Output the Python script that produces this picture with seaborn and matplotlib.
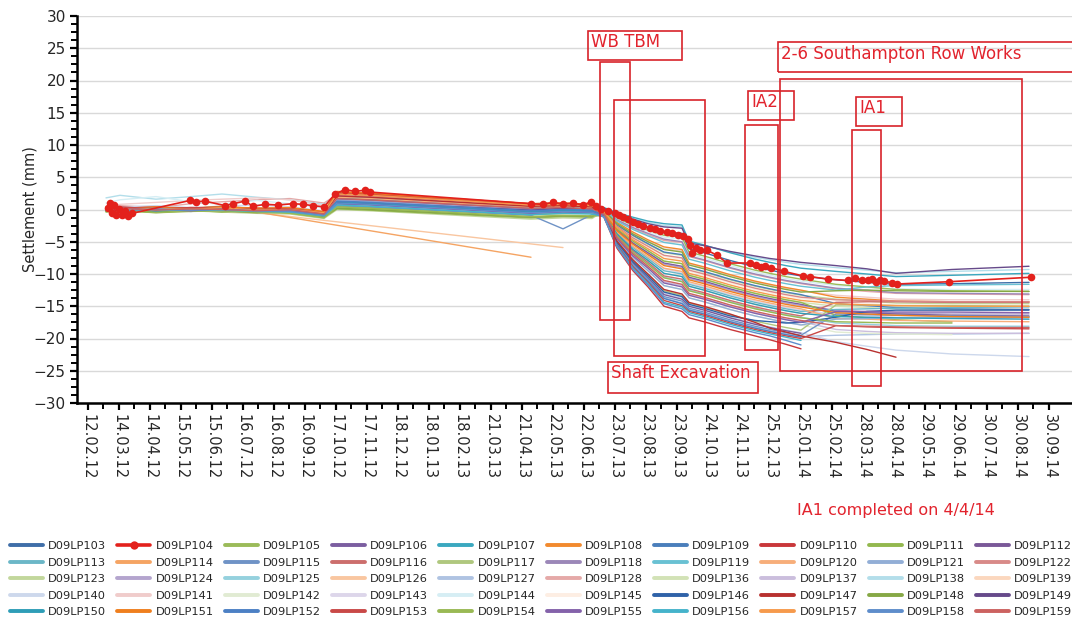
import numpy as np
import pandas as pd
import matplotlib
matplotlib.use("Agg")
import matplotlib.pyplot as plt
import matplotlib.dates as mdates
from matplotlib.patches import Rectangle
from matplotlib.lines import Line2D
from matplotlib.ticker import MultipleLocator, FixedLocator
import seaborn as sns

# ---------------------------------------------------------------------------
# Survey data: settlement (mm) of levelling points D09LP103 ... D09LP159
# ---------------------------------------------------------------------------
survey_dates = pd.to_datetime([
    "2012-03-01", "2012-03-15", "2012-04-20", "2012-05-25", "2012-06-25",
    "2012-07-30", "2012-09-01", "2012-10-05", "2012-10-18", "2012-11-20",
    "2013-04-30", "2013-06-01", "2013-06-30", "2013-07-12", "2013-07-25",
    "2013-08-10", "2013-08-25", "2013-09-10", "2013-09-28", "2013-10-05",
    "2013-10-20", "2013-11-15", "2013-12-10", "2013-12-25", "2014-01-10",
    "2014-01-25", "2014-03-01", "2014-04-01", "2014-04-30", "2014-06-25",
    "2014-09-10",
])

lp103 = [-0.2, 0.1, 0.0, -0.3, 0.1, -0.4, -0.2, -0.9, 0.9, 0.8, -0.4, -0.2, -0.3,
         0.1, -1.1, -2.0, -2.8, -3.5, -3.7,
         -6.1, -6.7, -7.9, -8.9, -9.4, -9.9, -10.3,
         -10.9, -11.3, -11.6, -11.5, -11.3]
lp105 = [0.0, -0.3, 0.2, -0.1, -0.3, 0.1, -0.4, -1.0, 0.5, 0.3, -0.8, -0.6, -0.5,
         0.1, -1.3, -2.4, -3.2, -4.0, -4.3,
         -6.6, -7.2, -8.4, -9.4, -9.9, -10.4, -10.8,
         -11.6, -12.0, -12.4, -12.6, -12.7]
lp106 = [0.0, 0.3, 0.1, 0.2, -0.1, 0.1, -0.1, -0.7, 1.3, 1.1, -0.2, 0.0, -0.1,
         -0.4, -3.1, -5.2, -6.7, -8.3, -8.8,
         -10.5, -11.1, -12.3, -13.3, -13.8, -14.3, -14.7,
         -15.8, -16.0, -16.2, -16.4, -16.5]
lp107 = [0.2, -0.1, 0.3, 0.0, 0.2, -0.2, 0.1, -0.5, 1.8, 1.6, 0.4, 0.6, 0.5,
         0.3, -0.5, -1.2, -1.8, -2.2, -2.4,
         -4.9, -5.5, -6.7, -7.7, -8.2, -8.7, -9.1,
         -9.6, -10.0, -10.4, -10.2, -9.9]
lp108 = [0.4, 0.1, 0.3, 0.2, 0.5, 0.1, 0.2, -0.4, 2.6, 2.4, 0.8, 0.9, 0.7,
         -0.1, -2.0, -3.5, -4.7, -5.8, -6.2,
         -8.3, -8.9, -10.1, -11.1, -11.6, -12.1, -12.5,
         -13.6, -13.9, -14.2, -14.3, -14.3]
lp109 = [0.0, 0.2, -0.1, 0.1, -0.2, 0.0, -0.2, -0.9, 1.6, 1.4, 0.1, 0.3, 0.2,
         -0.2, -2.4, -4.0, -5.3, -6.6, -7.0,
         -9.0, -9.6, -10.8, -11.8, -12.3, -12.8, -13.2,
         -14.6, -14.9, -15.2, -15.4, -15.5]
lp110 = [0.3, 0.2, 0.4, 0.1, 0.3, 0.2, 0.1, -0.4, 2.7, 2.5, 0.9, 1.0, 0.8,
         -1.2, -6.0, -9.5, -12.0, -15.0, -15.8,
         -16.8, -17.4, -18.6, -19.6, -20.2, -20.9, -21.6,
         None, None, None, None, None]
lp111 = [-0.2, 0.0, -0.3, -0.1, -0.4, -0.2, -0.5, -1.2, 0.1, -0.1, -1.3, -1.1, -1.2,
         -0.4, -3.0, -4.9, -6.4, -8.0, -8.4,
         -10.2, -10.8, -12.0, -13.0, -13.5, -14.0, -14.4,
         -16.4, -16.8, -17.1, -17.4, None]
lp112 = [0.0, 0.2, -0.1, 0.1, 0.0, -0.2, -0.1, -0.7, 1.5, 1.3, 0.0, 0.2, 0.1,
         -1.0, -5.2, -8.3, -10.6, -13.2, -13.9,
         -15.0, -15.6, -16.8, -17.8, -18.3, -18.8, -19.2,
         None, None, None, None, None]
lp113 = [-0.1, 0.1, -0.2, 0.0, -0.1, -0.3, -0.2, -0.9, 1.0, 0.8, -0.5, -0.3, -0.4,
         -0.6, -3.6, -5.9, -7.6, -9.5, -10.0,
         -11.6, -12.2, -13.4, -14.4, -14.9, -15.4, -15.8,
         -15.5, -15.4, -15.3, -15.2, -15.1]
lp114 = [0.2, -0.1, 0.3, 0.0, -0.2, -0.4, None, None, None, None, -7.4] + [None] * 20
lp115 = [-0.2, 0.0, -0.3, -0.1, -0.2, -0.4, -0.3, -1.0, 0.6, 0.4, -0.9, -3.0, -0.8,
         -1.0, -5.3, -8.5, -10.8, -13.5, -14.2,
         -15.3, -15.9, -17.1, -18.1, -18.6, -19.1, -19.5,
         -16.2, -16.3, -16.4, -16.5, -16.6]
lp116 = [0.2, 0.0, 0.3, 0.1, 0.2, 0.0, 0.1, -0.5, 2.3, 2.1, 0.6, 0.7, 0.5,
         -0.7, -4.0, -6.4, -8.2, -10.3, -10.8,
         -12.3, -12.9, -14.1, -15.1, -15.6, -16.1, -16.5,
         -14.4, -14.3, -14.3, -14.4, -14.4]
lp117 = [-0.3, -0.1, -0.4, -0.2, -0.3, -0.5, -0.4, -1.1, 0.3, 0.1, -1.2, -1.0, -1.1,
         -0.9, -5.0, -8.0, -10.1, -12.6, -13.3,
         -14.5, -15.1, -16.3, -17.3, -17.8, -18.3, -18.7,
         -14.8, -14.8, -14.9, -14.9, -15.0]
lp118 = [0.3, 0.0, -0.2, 0.1, 0.0, -0.3, -0.1, -0.8, 1.5, 1.3, 0.0, 0.2, 0.0,
         0.0, -1.6, -2.8, -3.7, -4.6, -5.0,
         -7.2, -7.8, -9.0, -10.0, -10.5, -11.0, -11.4,
         -12.2, -12.5, -12.9, -13.0, -13.1]
lp119 = [-0.1, 0.2, 0.1, -0.2, 0.3, 0.0, -0.3, -0.7, 2.0, 1.8, 0.3, 0.4, 0.2,
         0.0, -1.8, -3.1, -4.1, -5.1, -5.5,
         -7.7, -8.3, -9.5, -10.5, -11.0, -11.5, -11.9,
         -12.5, -12.0, -11.8, -11.7, -11.6]
lp120 = [0.1, 0.3, 0.0, 0.2, 0.1, -0.1, 0.0, -0.6, 1.9, 1.7, 0.4, 0.5, 0.3,
         -0.5, -3.5, -5.7, -7.3, -9.1, -9.6,
         -11.2, -11.8, -13.0, -14.0, -14.5, -15.0, -15.4,
         -16.9, -17.0, -17.2, -17.3, -17.4]
lp121 = [0.0, -0.1, 0.2, 0.0, -0.2, 0.1, -0.1, -0.8, 1.4, 1.2, -0.1, 0.1, 0.0,
         -0.8, -4.6, -7.4, -9.5, -11.8, -12.4,
         -13.7, -14.3, -15.5, -16.5, -17.0, -17.5, -17.9,
         -17.0, -16.9, -16.8, -16.8, -16.7]
lp122 = [0.2, 0.4, 0.1, 0.3, 0.2, 0.0, 0.1, -0.6, 2.2, 2.0, 0.6, 0.7, 0.5,
         -0.3, -2.6, -4.4, -5.7, -7.1, -7.5,
         -9.4, -10.0, -11.2, -12.2, -12.7, -13.2, -13.6,
         -14.0, -14.1, -14.2, -14.3, -14.3]
lp123 = [-0.3, -0.1, -0.5, -0.2, -0.4, -0.6, -0.7, -1.4, 0.0, -0.2, -1.5, -1.3, -1.4,
         -0.2, -2.4, -4.1, -5.4, -6.7, -7.1,
         -9.1, -9.7, -10.9, -11.9, -12.4, -12.9, -13.3,
         -13.9, -14.2, -14.5, -14.6, -14.6]
lp124 = [0.1, -0.1, 0.2, 0.0, 0.1, -0.1, -0.2, -0.7, 1.2, 1.0, -0.3, -0.1, -0.2,
         -0.5, -3.2, -5.3, -6.9, -8.5, -9.0,
         -10.7, -11.3, -12.5, -13.5, -14.0, -14.5, -14.9,
         -15.6, -15.9, -16.1, -16.2, -16.2]
lp125 = [-0.1, 0.1, -0.2, 0.0, -0.1, -0.3, -0.2, -0.9, 1.0, 0.8, -0.5, -0.3, -0.4,
         -0.7, -4.1, -6.6, -8.4, -10.5, -11.1,
         -12.5, -13.1, -14.3, -15.3, -15.8, -16.3, -16.7,
         -17.6, -17.8, -18.0, -18.1, -18.1]
lp126 = [0.0, 0.2, -0.1, 0.1, -0.3, -0.5, None, None, None, None, None, -5.9] + [None] * 19
lp127 = [0.0, -0.2, 0.1, -0.1, 0.0, -0.2, -0.3, -1.0, 0.8, 0.6, -0.7, -0.5, -0.6,
         -1.1, -5.4, -8.7, -11.0, -13.7, -14.5,
         -15.5, -16.1, -17.3, -18.3, -18.8, -19.3, -19.7,
         -19.5, -19.4, -19.3, -19.3, -19.2]
lp128 = [0.4, 0.6, 0.3, 0.9, 1.2, 1.5, 1.7, 1.0, 2.3, 2.1, 0.6, 0.7, 0.5,
         0.0, -1.7, -2.9, -3.9, -4.8, -5.1,
         -7.3, -7.9, -9.1, -10.1, -10.6, -11.1, -11.5,
         -12.3, -12.7, -13.0, -13.1, -13.2]
lp136 = [-0.2, 0.0, -0.3, -0.1, -0.2, -0.4, -0.5, -1.1, 0.5, 0.3, -1.0, -0.8, -0.9,
         -0.4, -3.0, -4.9, -6.4, -8.0, -8.4,
         -10.2, -10.8, -12.0, -13.0, -13.5, -14.0, -14.4,
         -15.0, -15.2, -15.4, -15.5, -15.5]
lp137 = [0.0, 0.2, 0.1, -0.1, 0.0, -0.2, -0.1, -0.8, 1.3, 1.1, -0.2, 0.0, -0.1,
         -0.8, -4.4, -7.0, -9.0, -11.2, -11.8,
         -13.2, -13.8, -15.0, -16.0, -16.5, -17.0, -17.4,
         -18.6, -18.9, -19.1, -19.2, -19.2]
lp138 = [1.8, 2.2, 1.6, 2.0, 2.4, 1.9, 1.5, 0.8, 2.0, 1.8, 0.5, 0.6, 0.4,
         0.2, -0.6, -1.4, -2.0, -2.5, -2.7,
         -5.0, -5.6, -6.6, -7.4, -7.8, -8.2, -8.5,
         -9.0, -9.4, -9.8, -9.6, -9.3]
lp139 = [0.3, 0.1, 0.4, 0.2, 0.3, 0.1, 0.2, -0.4, 2.6, 2.4, 0.8, 0.9, 0.7,
         -0.6, -3.8, -6.2, -7.9, -9.9, -10.4,
         -11.9, -12.5, -13.7, -14.7, -15.2, -15.7, -16.1,
         -16.2, -16.3, -16.4, -16.4, None]
lp140 = [0.2, 0.4, 0.6, 0.3, 0.5, 0.7, 0.4, -0.2, 1.7, 1.5, 0.2, 0.3, 0.1,
         -1.0, -5.2, -8.2, -10.5, -13.0, -13.7,
         -14.9, -15.5, -16.7, -17.7, -18.2, -18.7, -19.1,
         -20.5, -21.2, -21.8, -22.4, -22.8]
lp141 = [0.5, 0.8, 1.1, 1.4, 1.6, 1.8, 1.5, 0.6, 1.4, 1.2, 0.0, 0.2, 0.0,
         -0.1, -2.2, -3.7, -4.9, -6.1, -6.4,
         -8.4, -9.0, -10.2, -11.2, -11.7, -12.2, -12.6,
         -13.3, -13.6, -13.9, -14.0, -14.0]
lp142 = [-0.2, 0.0, -0.3, -0.1, -0.3, -0.4, -0.5, -1.2, 0.4, 0.2, -1.0, -0.8, -0.9,
         -0.8, -4.6, -7.4, -9.5, -11.8, -12.4,
         -13.7, -14.3, -15.5, -16.5, -17.0, -17.5, -17.9,
         -19.0, -19.2, -19.3, -19.4, None]
lp143 = [0.2, 0.4, 0.0, 0.3, 0.5, 0.2, 0.4, -0.3, 1.6, 1.4, 0.1, 0.2, 0.0,
         -0.5, -3.5, -5.8, -7.4, -9.2, -9.8,
         -11.4, -12.0, -13.2, -14.2, -14.7, -15.2, -15.6,
         -16.3, -16.5, -16.7, -16.8, -16.8]
lp144 = [1.0, 1.5, 2.0, 1.2, 0.8, 1.4, 0.9, 0.2, 1.9, 1.7, 0.3, 0.4, 0.2,
         0.0, -1.4, -2.5, -3.4, -4.3, -4.6,
         -6.9, -7.5, -8.7, -9.7, -10.2, -10.7, -11.1,
         -11.8, -12.1, -12.3, -12.4, -12.4]
lp145 = [0.0, 0.2, 0.1, 0.3, 0.1, 0.0, 0.2, -0.5, 1.8, 1.6, 0.3, 0.4, 0.2,
         -0.3, -2.7, -4.5, -5.9, -7.3, -7.7,
         -9.6, -10.2, -11.4, -12.4, -12.9, -13.4, -13.8,
         -14.4, -14.6, -14.8, -14.9, -14.9]
lp146 = [0.1, -0.1, 0.0, 0.2, -0.1, 0.0, -0.2, -0.8, 1.1, 0.9, -0.4, -0.2, -0.3,
         -0.9, -5.1, -8.1, -10.3, -12.8, -13.5,
         -14.7, -15.3, -16.5, -17.2, -17.4, -17.6, -17.5,
         -16.7, -15.8, -15.6, -15.6, -15.6]
lp147 = [0.3, 0.1, 0.2, 0.0, 0.3, 0.1, 0.0, -0.6, 2.1, 1.9, 0.5, 0.6, 0.4,
         -0.6, -4.9, -7.8, -10.0, -12.4, -13.1,
         -14.4, -15.0, -16.2, -17.5, -18.4, -19.0, -19.6,
         -20.6, -21.7, -22.9, None, None]
lp148 = [-0.3, -0.1, -0.4, 0.0, -0.2, -0.5, -0.3, -1.1, 0.2, 0.0, -1.2, -1.0, -1.1,
         -0.2, -2.2, -3.8, -5.0, -6.2, -6.6,
         -8.6, -9.2, -10.4, -11.4, -11.9, -12.4, -12.8,
         -12.6, -12.5, -12.6, -12.7, -12.7]
lp149 = [0.1, 0.3, -0.2, 0.2, 0.4, 0.0, -0.1, -0.6, 1.2, 1.0, -0.1, 0.2, 0.1,
         0.2, -0.7, -1.5, -2.2, -2.7, -2.9,
         -5.2, -5.6, -6.5, -7.2, -7.6, -7.9, -8.2,
         -8.7, -9.2, -9.9, -9.3, -8.8]
lp150 = [0.0, -0.2, 0.1, -0.1, 0.0, -0.2, -0.3, -0.8, 1.2, 1.0, -0.3, -0.1, -0.2,
         -0.6, -3.8, -6.2, -7.9, -9.9, -10.4,
         -11.9, -12.5, -13.7, -14.7, -15.2, -15.7, -16.1,
         -16.6, -16.7, -16.8, -16.9, -17.0]
lp151 = [0.3, 0.1, 0.4, 0.2, 0.4, 0.2, 0.3, -0.3, 2.8, 2.5, 0.9, 1.0, 0.8,
         -0.5, -3.3, -5.4, -7.0, -8.7, -9.2,
         -10.9, -11.5, -12.7, -13.7, -14.2, -14.7, -15.1,
         -16.0, -16.2, -16.4, -16.6, -16.7]
lp152 = [0.1, 0.0, 0.2, -0.1, 0.1, -0.1, -0.2, -0.9, 1.3, 1.1, -0.2, 0.0, -0.1,
         -1.1, -5.5, -8.8, -11.1, -13.8, -14.6,
         -15.6, -16.2, -17.4, -18.4, -18.9, -19.4, -19.8,
         None, None, None, None, None]
lp153 = [0.2, 0.4, 0.1, 0.3, 0.2, 0.0, 0.1, -0.5, 2.5, 2.3, 0.7, 0.8, 0.6,
         -1.1, -5.6, -8.9, -11.3, -14.1, -14.9,
         -15.8, -16.4, -17.6, -18.6, -19.1, -19.6, -20.0,
         -18.0, -18.2, -18.3, -18.4, -18.5]
lp154 = [-0.4, -0.2, -0.5, -0.3, -0.2, -0.4, -0.6, -1.3, 0.4, 0.2, -1.1, -0.9, -1.0,
         -0.7, -4.1, -6.7, -8.5, -10.6, -11.2,
         -12.6, -13.2, -14.4, -15.4, -15.9, -16.4, -16.8,
         -17.4, -17.5, -17.6, -17.6, None]
lp155 = [-0.1, 0.1, 0.0, -0.2, 0.1, -0.1, -0.2, -0.9, 0.9, 0.7, -0.6, -0.4, -0.5,
         -0.8, -4.5, -7.2, -9.1, -11.4, -12.0,
         -13.3, -13.9, -15.1, -16.1, -16.6, -17.1, -17.5,
         -15.8, -15.8, -15.9, -15.9, -16.0]
lp156 = [-0.1, 0.1, -0.2, 0.0, -0.1, -0.3, -0.4, -1.0, 0.7, 0.5, -0.8, -0.6, -0.7,
         -1.1, -5.7, -9.1, -11.5, -14.4, -15.1,
         -16.0, -16.6, -17.8, -18.8, -19.3, -19.8, -20.3,
         None, None, None, None, None]
lp157 = [0.1, -0.2, 0.2, 0.0, 0.3, -0.1, 0.0, -0.5, 2.4, 2.2, 0.7, 0.8, 0.6,
         -0.3, -2.8, -4.7, -6.1, -7.6, -8.0,
         -9.9, -10.5, -11.7, -12.7, -13.2, -13.7, -14.1,
         -14.6, -14.8, -14.9, -15.0, -15.0]
lp158 = [0.0, -0.2, 0.1, -0.1, 0.0, -0.2, -0.3, -0.9, 1.0, 0.8, -0.5, -0.3, -0.4,
         -1.2, -5.8, -9.3, -11.7, -14.6, -15.4,
         -16.3, -16.9, -18.1, -19.1, -19.6, -20.3, -21.0,
         None, None, None, None, None]
lp159 = [0.1, 0.2, -0.1, 0.1, 0.0, -0.2, 0.0, -0.7, 1.7, 1.5, 0.2, 0.3, 0.1,
         -0.7, -4.3, -6.9, -8.8, -11.0, -11.6,
         -13.0, -13.6, -14.8, -15.8, -16.3, -16.8, -17.2,
         -18.0, -18.1, -18.2, -18.3, -18.3]

# D09LP104 is read far more often and is drawn with markers
lp104_dates = pd.to_datetime([
    "2012-03-03", "2012-03-05", "2012-03-07", "2012-03-09", "2012-03-11",
    "2012-03-14", "2012-03-17", "2012-03-20", "2012-03-23", "2012-03-27",
    "2012-05-24", "2012-05-30", "2012-06-08", "2012-06-28", "2012-07-06",
    "2012-07-18", "2012-07-26", "2012-08-07", "2012-08-20", "2012-09-04",
    "2012-09-14", "2012-09-24", "2012-10-05", "2012-10-16", "2012-10-26",
    "2012-11-05", "2012-11-15", "2012-11-20",
    "2013-04-30", "2013-05-12", "2013-05-22", "2013-06-01", "2013-06-11",
    "2013-06-21", "2013-06-29", "2013-07-04", "2013-07-09", "2013-07-16",
    "2013-07-23", "2013-07-27", "2013-07-31", "2013-08-05", "2013-08-10",
    "2013-08-15", "2013-08-20", "2013-08-27", "2013-09-01", "2013-09-06",
    "2013-09-13", "2013-09-18", "2013-09-24", "2013-09-29", "2013-10-04",
    "2013-10-06", "2013-10-08", "2013-10-12", "2013-10-16", "2013-10-23",
    "2013-11-02", "2013-11-12", "2013-12-05", "2013-12-11", "2013-12-16",
    "2013-12-20", "2013-12-26", "2014-01-08", "2014-01-27", "2014-02-03",
    "2014-02-21", "2014-03-13", "2014-03-20", "2014-03-27", "2014-04-02",
    "2014-04-06", "2014-04-10", "2014-04-14", "2014-04-18", "2014-04-26",
    "2014-05-01", "2014-06-22", "2014-09-12",
])
lp104_values = [
    0.3, 1.0, -0.5, 0.7, -0.8, 0.1, -0.9, -0.3, -1.0, -0.6,
    1.4, 1.2, 1.3, 0.6, 0.9, 1.3, 0.5, 0.8, 0.7, 0.9,
    0.8, 0.6, 0.4, 2.4, 3.1, 2.8, 3.0, 2.7,
    0.9, 0.8, 1.1, 0.8, 1.0, 0.7, 1.2, 0.6, 0.1, -0.3,
    -0.6, -0.9, -1.1, -1.5, -1.9, -2.2, -2.5, -2.9, -3.1, -3.3,
    -3.5, -3.7, -3.9, -4.1, -4.5, -5.5, -6.8, -6.0, -6.3, -6.3,
    -7.1, -8.3, -8.3, -8.6, -8.9, -8.7, -9.0, -9.6, -10.3, -10.4,
    -10.8, -11.0, -10.6, -10.9, -11.0, -10.7, -11.2, -11.0, -11.1, -11.35,
    -11.55, -11.2, -10.5,
]

point_names = [
    "D09LP103", "D09LP104", "D09LP105", "D09LP106", "D09LP107",
    "D09LP108", "D09LP109", "D09LP110", "D09LP111", "D09LP112",
    "D09LP113", "D09LP114", "D09LP115", "D09LP116", "D09LP117",
    "D09LP118", "D09LP119", "D09LP120", "D09LP121", "D09LP122",
    "D09LP123", "D09LP124", "D09LP125", "D09LP126", "D09LP127",
    "D09LP128", "D09LP136", "D09LP137", "D09LP138", "D09LP139",
    "D09LP140", "D09LP141", "D09LP142", "D09LP143", "D09LP144",
    "D09LP145", "D09LP146", "D09LP147", "D09LP148", "D09LP149",
    "D09LP150", "D09LP151", "D09LP152", "D09LP153", "D09LP154",
    "D09LP155", "D09LP156", "D09LP157", "D09LP158", "D09LP159",
]
point_colors = [
    "#3F6EA8", "#E3211C", "#9BBB59", "#7B5EA0", "#3AA8BF",
    "#F28A2E", "#4A7EBB", "#C9373A", "#93B84E", "#7A5898",
    "#6BB7C7", "#F5A463", "#6F93C6", "#CC6E6C", "#AFC77E",
    "#9B87B8", "#69C1D3", "#F7AE7A", "#92AED6", "#D88A88",
    "#C2D79C", "#B4A5CE", "#95D1DE", "#F9C6A0", "#AFC3E2",
    "#E5A9A8", "#D2E2B6", "#CBBEDD", "#B3DEEA", "#FBD7BE",
    "#CDD8EC", "#F0CCCB", "#E1EBD3", "#DDD6EA", "#D6EEF4",
    "#FDEEE3", "#2F62A8", "#B8312F", "#86A845", "#664A8A",
    "#2E9DB7", "#EF7F1E", "#4C80C4", "#C94947", "#99B954",
    "#8462AA", "#45B3CB", "#F69A4C", "#5E8DCB", "#CC6260",
]

tick_labels = [
    "12.02.12", "14.03.12", "14.04.12", "15.05.12", "15.06.12", "16.07.12",
    "16.08.12", "16.09.12", "17.10.12", "17.11.12", "18.12.12", "18.01.13",
    "18.02.13", "21.03.13", "21.04.13", "22.05.13", "22.06.13", "23.07.13",
    "23.08.13", "23.09.13", "24.10.13", "24.11.13", "25.12.13", "25.01.14",
    "25.02.14", "28.03.14", "28.04.14", "29.05.14", "29.06.14", "30.07.14",
    "30.08.14", "30.09.14",
]

# Works periods: caption boxes and period boxes as (start, end, top, bottom)
works_captions = ["WB TBM", "Shaft Excavation", "IA2",
                  "2-6 Southampton Row Works", "IA1"]
caption_boxes = [
    ("2013-06-26", "2013-09-28", 27.7, 23.2),
    ("2013-07-16", "2013-12-13", -23.6, -28.4),
    ("2013-12-03", "2014-01-18", 18.4, 13.8),
    ("2014-01-02", "2014-12-15", 25.9, 21.3),
    ("2014-03-21", "2014-05-06", 17.5, 12.9),
]
period_boxes = [
    ("2013-07-08", "2013-08-07", 22.8, -17.1),
    ("2013-07-22", "2013-10-21", 16.9, -22.7),
    ("2013-11-30", "2014-01-02", 13.1, -21.8),
    ("2014-01-04", "2014-09-03", 20.2, -25.0),
    ("2014-03-17", "2014-04-15", 12.3, -27.4),
]
note_text = "IA1 completed on 4/4/14"

# ---------------------------------------------------------------------------
series_values = {
    "D09LP103": lp103, "D09LP105": lp105, "D09LP106": lp106, "D09LP107": lp107,
    "D09LP108": lp108, "D09LP109": lp109, "D09LP110": lp110, "D09LP111": lp111,
    "D09LP112": lp112, "D09LP113": lp113, "D09LP114": lp114, "D09LP115": lp115,
    "D09LP116": lp116, "D09LP117": lp117, "D09LP118": lp118, "D09LP119": lp119,
    "D09LP120": lp120, "D09LP121": lp121, "D09LP122": lp122, "D09LP123": lp123,
    "D09LP124": lp124, "D09LP125": lp125, "D09LP126": lp126, "D09LP127": lp127,
    "D09LP128": lp128, "D09LP136": lp136, "D09LP137": lp137, "D09LP138": lp138,
    "D09LP139": lp139, "D09LP140": lp140, "D09LP141": lp141, "D09LP142": lp142,
    "D09LP143": lp143, "D09LP144": lp144, "D09LP145": lp145, "D09LP146": lp146,
    "D09LP147": lp147, "D09LP148": lp148, "D09LP149": lp149, "D09LP150": lp150,
    "D09LP151": lp151, "D09LP152": lp152, "D09LP153": lp153, "D09LP154": lp154,
    "D09LP155": lp155, "D09LP156": lp156, "D09LP157": lp157, "D09LP158": lp158,
    "D09LP159": lp159,
}
palette = dict(zip(point_names, point_colors))

frames = []
for name, vals in series_values.items():
    frames.append(pd.DataFrame({
        "date": survey_dates,
        "settlement": np.array(vals, dtype=float),
        "point": name,
    }))
long_df = pd.concat(frames, ignore_index=True).dropna(subset=["settlement"])

# pale series first so the stronger lines sit on top
pale = ["D09LP123", "D09LP124", "D09LP125", "D09LP126", "D09LP127", "D09LP128",
        "D09LP136", "D09LP137", "D09LP138", "D09LP139", "D09LP140", "D09LP141",
        "D09LP142", "D09LP143", "D09LP144", "D09LP145"]
draw_order = pale + [n for n in series_values if n not in pale]

# ---------------------------------------------------------------------------
sns.set_theme(style="white")
plt.rcParams["font.family"] = ["DejaVu Sans"]

W, H = 1072, 622
fig = plt.figure(figsize=(W / 100, H / 100), dpi=100)
ax = fig.add_axes([77 / W, 219 / H, 995 / W, 387 / H])

sns.lineplot(data=long_df, x="date", y="settlement", hue="point",
             hue_order=draw_order, palette=palette, estimator=None,
             linewidth=1.0, legend=False, ax=ax)
sns.lineplot(x=lp104_dates, y=lp104_values, color=palette["D09LP104"],
             estimator=None, linewidth=1.2, marker="o", markersize=5.5,
             markeredgewidth=0, ax=ax, zorder=4)

ax.set_xlim(pd.Timestamp("2012-02-01"), pd.Timestamp("2014-10-23"))
ax.set_ylim(-30, 30)
ax.yaxis.set_major_locator(MultipleLocator(5))
ax.yaxis.set_minor_locator(MultipleLocator(1.25))

tick_dates = pd.to_datetime(tick_labels, format="%d.%m.%y")
tick_nums = mdates.date2num(tick_dates)
ax.xaxis.set_major_locator(FixedLocator(tick_nums))
ax.xaxis.set_minor_locator(FixedLocator((tick_nums[:-1] + tick_nums[1:]) / 2))
ax.set_xticklabels(tick_labels, rotation=-90, fontsize=10.5)
for lbl in ax.get_yticklabels():
    lbl.set_fontsize(11)

ax.set_xlabel("")
ax.set_ylabel("Settlement (mm)", fontsize=10.5, labelpad=-3)

ax.yaxis.grid(True, which="major", color="#D9D9D9", linewidth=1.0)
ax.xaxis.grid(False)
ax.set_axisbelow(True)
for side in ("top", "right"):
    ax.spines[side].set_visible(False)
for side in ("left", "bottom"):
    ax.spines[side].set_color("black")
    ax.spines[side].set_linewidth(1.8)
ax.tick_params(axis="both", which="major", direction="out", length=5,
               width=1.6, color="black", pad=3, left=True, bottom=True)
ax.tick_params(axis="both", which="minor", direction="out", length=4,
               width=1.4, color="black", left=True, bottom=True)

# works periods
box_red = "#D8232A"
text_red = "#E2232D"
for caption, cap, per in zip(works_captions, caption_boxes, period_boxes):
    for (start, end, top, bottom), is_caption in ((cap, True), (per, False)):
        x0 = mdates.date2num(pd.Timestamp(start))
        x1 = mdates.date2num(pd.Timestamp(end))
        ax.add_patch(Rectangle((x0, bottom), x1 - x0, top - bottom, fill=False,
                               edgecolor=box_red, linewidth=1.2, clip_on=False,
                               zorder=6))
        if is_caption:
            ax.annotate(caption, xy=(x0, top), xycoords="data",
                        xytext=(2.5, -1.5), textcoords="offset points",
                        ha="left", va="top", fontsize=12, color=text_red,
                        annotation_clip=False, zorder=7)

fig.text(797 / W, 1 - 510 / H, note_text, color=text_red, fontsize=11.5,
         ha="left", va="center")

# legend laid out row by row, ten entries per row
handles = {}
for name in point_names:
    if name == "D09LP104":
        handles[name] = Line2D([], [], color=palette[name], linewidth=2.6,
                               marker="o", markersize=6, markeredgewidth=0)
    else:
        handles[name] = Line2D([], [], color=palette[name], linewidth=2.8)
ncol, nrow = 10, 5
ordered = [point_names[r * ncol + c] for c in range(ncol) for r in range(nrow)]
fig.legend([handles[n] for n in ordered], ordered, loc="upper left",
           bbox_to_anchor=(10 / W, 1 - 541 / H), ncol=ncol, frameon=False,
           fontsize=8.2, handlelength=2.9, handletextpad=0.45,
           columnspacing=0.97, labelspacing=0.58, borderpad=0,
           borderaxespad=0)

fig.savefig("out.png", dpi=100)
